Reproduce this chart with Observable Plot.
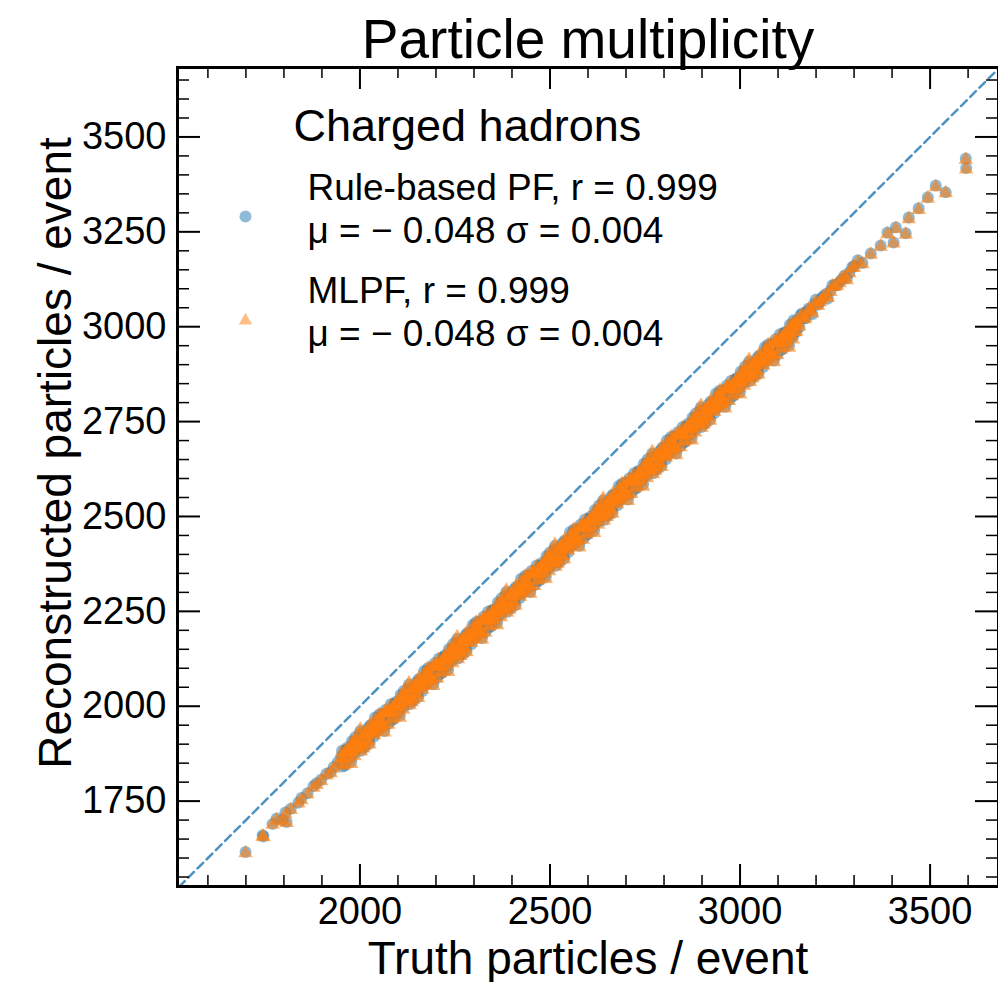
<!DOCTYPE html>
<html><head><meta charset="utf-8">
<script src="https://cdn.jsdelivr.net/npm/d3@7"></script>
<script src="https://cdn.jsdelivr.net/npm/@observablehq/plot@0.6"></script>
<style>body{margin:0;background:#fff}</style>
</head><body><div id="chart"></div>
<script>
// events, batch A
const truth = [1699,1744,1746,1770,1781,1796,1804,1807,1818,1838,1846,1862,1878,1886,1898,1912,1923,1931,1942,
1951,1958,1967,1975,1982,1990,1999,2006,2014,2023,2031,2038,2047,2055,2062,2071,2079,2086,2095,2103,2110,2119,2127,2134,2143,2151,2158,2167,2175,2182,2191,2199,2206,2215,2223,2230,2239,2247,2254,2263,2271,2278,2287,2295,2302,2311,2319,2326,2335,2343,2350,2359,2367,2374,2383,2391,2398,2407,2415,2422,2431,2439,2446,2455,2463,2470,2479,2487,2494,2503,2511,2518,2527,2535,2542,2551,2559,2566,2575,2583,2590,2599,2607,2614,2623,2631,2638,2647,2655,2662,2671,2679,2686,2695,2703,2710,2719,2727,2734,2743,2751,2758,2767,2775,2782,2791,2799,2806,2815,2823,2830,2839,2847,2854,2863,2871,2878,2887,2895,2902,2911,2919,2926,2935,2943,2950,2959,2967,2974,2983,2991,2998,3007,3015,3022,3031,3039,3046,3055,3063,3070,3079,3087,3094,3103,3111,3118,3127,3135,3142,
3151,3159,3168,3176,3185,3196,3205,3214,3226,3238,3249,3262,3275,3288,3300,3310,3322,3344,3370,3388,3404,3410,3436,3444,3470,3494,3515,3541,3594,3595];

const recoPF = [1616,1660,1657,1690,1704,1700,1720,1695,1730,1746,1758,1771,1790,1797,1806,1822,1826,1840,1853,
1867,1858,1891,1884,1877,1907,1925,1910,1924,1912,1949,1937,1969,1961,1955,1983,
1989,1980,2012,2006,1999,2030,2047,2032,2047,2034,2069,2060,2091,2082,2078,2104,
2110,2103,2134,2127,2122,2152,2168,2154,2169,2155,2192,2182,2212,2205,2200,2225,
2233,2225,2255,2250,2243,2273,2291,2276,2290,2277,2314,2303,2334,2327,2321,2348,
2355,2345,2378,2372,2364,2396,2412,2397,2413,2399,2435,2426,2456,2448,2443,2470,
2476,2468,2500,2493,2487,2518,2533,2520,2535,2520,2558,2547,2577,2571,2565,2591,
2598,2590,2621,2615,2609,2639,2656,2642,2655,2643,2680,2668,2700,2692,2686,2714,
2720,2711,2744,2737,2730,2761,2778,2763,2778,2765,2801,2791,2822,2813,2809,2836,
2841,2834,2865,2858,2853,2883,2899,2886,2900,2886,2923,2913,2943,2936,2931,2956,
2964,2956,2986,2981,2975,3004,
3013,3030,3022,3040,3045,3060,3058,3075,3086,3095,3110,3118,3135,3143,3160,3175,3168,3193,3214,3248,3222,3262,3246,3288,3312,3341,3372,3354,3443,3418];

const recoMLPF = [1613,1657,1655,1688,1700,1697,1716,1693,1727,1744,1753,1768,1786,1793,1803,1818,1824,1836,1848,
1864,1860,1885,1883,1881,1902,1925,1902,1927,1910,1945,1938,1962,1963,1952,1988,
1986,1982,2006,2005,2003,2025,2047,2024,2050,2032,2065,2061,2084,2084,2075,2109,
2107,2105,2128,2126,2126,2147,2168,2146,2172,2153,2188,2183,2205,2207,2197,2230,
2230,2227,2249,2249,2247,2268,2291,2268,2293,2275,2310,2304,2327,2329,2318,2353,
2352,2347,2372,2371,2368,2391,2412,2389,2416,2397,2431,2427,2449,2450,2440,2475,
2473,2470,2494,2492,2491,2513,2533,2512,2538,2518,2554,2548,2570,2573,2562,2596,
2595,2592,2615,2614,2613,2634,2656,2634,2658,2641,2676,2669,2693,2694,2683,2719,
2717,2713,2738,2736,2734,2756,2778,2755,2781,2763,2797,2792,2815,2815,2806,2841,
2838,2836,2859,2857,2857,2878,2899,2878,2903,2884,2919,2914,2936,2938,2928,2961,
2961,2958,2980,2980,2979,2999,
3010,3026,3020,3035,3043,3056,3055,3070,3083,3092,3105,3115,3130,3141,3156,3170,3165,3190,3211,3244,3220,3258,3243,3284,3308,3338,3368,3352,3440,3415];

// events, batch B
const truth2 = [1955,1962,1971,1979,1986,1994,2003,2010,2018,2027,2035,2042,2051,2059,2066,2075,
2083,2090,2099,2107,2114,2123,2131,2138,2147,2155,2162,2171,2179,2186,2195,2203,
2210,2219,2227,2234,2243,2251,2258,2267,2275,2282,2291,2299,2306,2315,2323,2330,
2339,2347,2354,2363,2371,2378,2387,2395,2402,2411,2419,2426,2435,2443,2450,2459,
2467,2474,2483,2491,2498,2507,2515,2522,2531,2539,2546,2555,2563,2570,2579,2587,
2594,2603,2611,2618,2627,2635,2642,2651,2659,2666,2675,2683,2690,2699,2707,2714,
2723,2731,2738,2747,2755,2762,2771,2779,2786,2795,2803,2810,2819,2827,2834,2843,
2851,2858,2867,2875,2882,2891,2899,2906,2915,2923,2930,2939,2947,2954,2963,2971,
2978,2987,2995,3002,3011,3019,3026,3035,3043,3050,3059,3067,3074,3083,3091,3098,
3107,3115,3122,3131,3139,3146];

const recoPF2 = [1841,1884,1875,1908,1875,1904,1883,1926,1913,1950,1940,1932,1979,1956,1981,1954,
1963,2006,1996,2030,1997,2027,2005,2048,2036,2072,2060,2055,2101,2077,2104,2075,
2084,2129,2118,2151,2120,2149,2126,2170,2158,2193,2183,2177,2222,2200,2226,2196,
2207,2251,2239,2274,2241,2270,2249,2292,2279,2315,2305,2298,2344,2322,2347,2319,
2329,2371,2362,2396,2362,2393,2370,2413,2402,2437,2426,2421,2466,2443,2469,2441,
2450,2494,2484,2517,2485,2515,2491,2536,2524,2558,2549,2542,2587,2566,2591,2562,
2572,2616,2605,2639,2607,2636,2614,2658,2644,2681,2671,2663,2710,2687,2712,2685,
2694,2737,2728,2761,2728,2758,2736,2779,2767,2803,2792,2786,2832,2808,2835,2807,
2815,2860,2849,2882,2851,2880,2857,2902,2889,2924,2914,2908,2953,2931,2957,2927,
2938,2982,2970,3005,2973,3001];

const recoMLPF2 = [1843,1879,1876,1905,1869,1907,1881,1926,1909,1952,1933,1933,1978,1951,1984,1952,
1965,2001,1997,2027,1991,2030,2003,2048,2032,2074,2053,2056,2100,2072,2107,2073,
2086,2124,2119,2148,2114,2152,2124,2170,2154,2195,2176,2178,2221,2195,2229,2194,
2209,2246,2240,2271,2235,2273,2247,2292,2275,2317,2298,2299,2343,2317,2350,2317,
2331,2366,2363,2393,2356,2396,2368,2413,2398,2439,2419,2422,2465,2438,2472,2439,
2452,2489,2485,2514,2479,2518,2489,2536,2520,2560,2542,2543,2586,2561,2594,2560,
2574,2611,2606,2636,2601,2639,2612,2658,2640,2683,2664,2664,2709,2682,2715,2683,
2696,2732,2729,2758,2722,2761,2734,2779,2763,2805,2785,2787,2831,2803,2838,2805,
2817,2855,2850,2879,2845,2883,2855,2902,2885,2926,2907,2909,2952,2926,2960,2925,
2940,2977,2971,3002,2967,3004];

// events, batch C
const truth3 = [1953,1960,1969,1977,1984,1992,2001,2008,2016,2025,2033,2040,2049,2057,2064,2073,
2081,2088,2097,2105,2112,2121,2129,2136,2145,2153,2160,2169,2177,2184,2193,2201,
2208,2217,2225,2232,2241,2249,2256,2265,2273,2280,2289,2297,2304,2313,2321,2328,
2337,2345,2352,2361,2369,2376,2385,2393,2400,2409,2417,2424,2433,2441,2448,2457,
2465,2472,2481,2489,2496,2505,2513,2520,2529,2537,2544,2553,2561,2568,2577,2585,
2592,2601,2609,2616,2625,2633,2640,2649,2657,2664,2673,2681,2688,2697,2705,2712,
2721,2729,2736,2745,2753,2760,2769,2777,2784,2793,2801,2808,2817,2825,2832,2841,
2849,2856,2865,2873,2880,2889,2897,2904,2913,2921,2928,2937,2945,2952,2961,2969,
2976,2985,2993,3000,3009,3017,3024,3033,3041,3048,3057,3065,3072,3081,3089,3096,
3105,3113,3120,3129,3137,3144];

const recoPF3 = [1883,1844,1881,1854,1905,1892,1935,1894,1931,1902,1936,1970,1939,1978,1935,1982,
2005,1966,2002,1976,2027,2015,2057,2016,2054,2024,2056,2093,2061,2099,2058,2103,
2126,2089,2124,2097,2150,2137,2178,2138,2176,2145,2179,2215,2182,2222,2180,2224,
2249,2211,2245,2220,2271,2258,2301,2260,2297,2267,2301,2336,2304,2344,2301,2347,
2371,2331,2368,2342,2392,2381,2422,2381,2420,2389,2422,2459,2426,2465,2423,2469,
2492,2454,2490,2463,2515,2503,2543,2504,2542,2510,2545,2580,2547,2588,2545,2590,
2614,2576,2611,2585,2637,2624,2666,2626,2662,2633,2667,2701,2670,2709,2666,2713,
2736,2697,2734,2707,2758,2746,2788,2747,2785,2755,2788,2824,2792,2830,2789,2835,
2857,2820,2855,2828,2881,2868,2909,2870,2907,2876,2910,2946,2913,2953,2911,2955,
2980,2942,2976,2951,3003,2989];

const recoMLPF3 = [1879,1847,1879,1848,1906,1889,1939,1889,1931,1900,1938,1963,1942,1977,1931,1983,
2001,1969,2000,1970,2028,2012,2061,2011,2054,2022,2058,2086,2064,2098,2054,2104,
2122,2092,2122,2091,2151,2134,2182,2133,2176,2143,2181,2208,2185,2221,2176,2225,
2245,2214,2243,2214,2272,2255,2305,2255,2297,2265,2303,2329,2307,2343,2297,2348,
2367,2334,2366,2336,2393,2378,2426,2376,2420,2387,2424,2452,2429,2464,2419,2470,
2488,2457,2488,2457,2516,2500,2547,2499,2542,2508,2547,2573,2550,2587,2541,2591,
2610,2579,2609,2579,2638,2621,2670,2621,2662,2631,2669,2694,2673,2708,2662,2714,
2732,2700,2732,2701,2759,2743,2792,2742,2785,2753,2790,2817,2795,2829,2785,2836,
2853,2823,2853,2822,2882,2865,2913,2865,2907,2874,2912,2939,2916,2952,2907,2956,
2976,2945,2974,2945,3004,2986];

// events, batch D
const truth4 = [1957,1964,1973,1981,1988,1996,2005,2012,2020,2029,2037,2044,2053,2061,2068,2077,
2085,2092,2101,2109,2116,2125,2133,2140,2149,2157,2164,2173,2181,2188,2197,2205,
2212,2221,2229,2236,2245,2253,2260,2269,2277,2284,2293,2301,2308,2317,2325,2332,
2341,2349,2356,2365,2373,2380,2389,2397,2404,2413,2421,2428,2437,2445,2452,2461,
2469,2476,2485,2493,2500,2509,2517,2524,2533,2541,2548,2557,2565,2572,2581,2589,
2596,2605,2613,2620,2629,2637,2644,2653,2661,2668,2677,2685,2692,2701,2709,2716,
2725,2733,2740,2749,2757,2764,2773,2781,2788,2797,2805,2812,2821,2829,2836,2845,
2853,2860,2869,2877,2884,2893,2901,2908,2917,2925,2932,2941,2949,2956,2965,2973,
2980,2989,2997,3004,3013,3021,3028,3037,3045,3052,3061,3069,3076,3085,3093,3100,
3109,3117,3124,3133,3141,3148];

const recoPF4 = [1861,1884,1863,1894,1919,1890,1911,1892,1941,1926,1920,1956,1953,1948,1991,1982,
1983,2006,1984,2016,2041,2013,2033,2014,2064,2048,2040,2079,2075,2069,2114,2103,
2104,2129,2106,2137,2164,2135,2154,2136,2186,2169,2163,2201,2196,2192,2236,2224,
2227,2251,2227,2260,2285,2256,2277,2258,2307,2291,2285,2322,2318,2314,2357,2347,
2349,2371,2350,2382,2406,2379,2398,2379,2430,2413,2406,2445,2440,2435,2479,2469,
2470,2494,2472,2503,2529,2501,2519,2502,2552,2534,2529,2566,2561,2558,2601,2590,
2592,2616,2593,2625,2651,2622,2642,2624,2672,2657,2651,2687,2684,2679,2722,2713,
2714,2737,2716,2747,2772,2744,2764,2745,2795,2779,2772,2810,2806,2800,2845,2835,
2835,2860,2837,2868,2895,2866,2885,2868,2917,2900,2894,2932,2927,2923,2967,2955,
2958,2982,2958,2991,3017,2987];

const recoMLPF4 = [1862,1878,1865,1891,1911,1890,1909,1895,1936,1925,1924,1952,1953,1945,1984,1984,
1984,2000,1986,2013,2033,2013,2031,2017,2059,2047,2044,2075,2075,2066,2107,2105,
2105,2123,2108,2134,2156,2135,2152,2139,2181,2168,2167,2197,2196,2189,2229,2226,
2228,2245,2229,2257,2277,2256,2275,2261,2302,2290,2289,2318,2318,2311,2350,2349,
2350,2365,2352,2379,2398,2379,2396,2382,2425,2412,2410,2441,2440,2432,2472,2471,
2471,2488,2474,2500,2521,2501,2517,2505,2547,2533,2533,2562,2561,2555,2594,2592,
2593,2610,2595,2622,2643,2622,2640,2627,2667,2656,2655,2683,2684,2676,2715,2715,
2715,2731,2718,2744,2764,2744,2762,2748,2790,2778,2776,2806,2806,2797,2838,2837,
2836,2854,2839,2865,2887,2866,2883,2871,2912,2899,2898,2928,2927,2920,2960,2957,
2959,2976,2960,2988,3009,2987];

// events, batch E (upper tail)
const truth5 = [3148,3156,3163,3172,3181,3190,3199,3210,3219,3231,3243,3255,3268,3281,3295];
const recoPF5 = [3015,2999,3035,3022,3048,3033,3071,3064,3080,3074,3109,3109,3125,3128,3157];
const recoMLPF5 = [3012,3001,3030,3022,3046,3036,3065,3065,3076,3076,3106,3108,3127,3123,3155];

const xMajor = [2000, 2500, 3000, 3500];
const xMinor = [1600,1700,1800,1900,2100,2200,2300,2400,2600,2700,2800,2900,3100,3200,3300,3400,3600];
const yMajor = [1750, 2000, 2250, 2500, 2750, 3000, 3250, 3500];
const yMinor = [1550,1600,1650,1700,1800,1850,1900,1950,2050,2100,2150,2200,2300,2350,2400,2450,2550,2600,2650,2700,2800,2850,2900,2950,3050,3100,3150,3200,3300,3350,3400,3450,3550,3600,3650];
const diagonal = [1500, 3700];

const titleText = "Particle multiplicity";
const xLabel = "Truth particles / event";
const yLabel = "Reconstructed particles / event";
const legendTitle = "Charged hadrons";
const seriesNames = ["Rule-based PF, r = 0.999", "MLPF, r = 0.999"];
const seriesStats = ["μ = − 0.048 σ = 0.004", "μ = − 0.048 σ = 0.004"];

const batches = [[truth, recoPF, recoMLPF], [truth2, recoPF2, recoMLPF2], [truth3, recoPF3, recoMLPF3], [truth4, recoPF4, recoMLPF4], [truth5, recoPF5, recoMLPF5]];
const pf = batches.flatMap(([t, p]) => t.map((v, i) => ({truth: v, reco: p[i]})));
const ml = batches.flatMap(([t, , m]) => t.map((v, i) => ({truth: v, reco: m[i]})));

const W = 998, H = 982, mL = 177, mR = 0, mT = 67, mB = 96;
const iw = W - mL - mR, ih = H - mT - mB;
const blue = "#1f77b4", orange = "#ff7f0e";
const tx = {frameAnchor: "top-left", textAnchor: "start", lineAnchor: "bottom", fill: "black"};

const chart = Plot.plot({
  width: W, height: H,
  marginLeft: mL, marginRight: mR, marginTop: mT, marginBottom: mB,
  style: {fontFamily: "'Liberation Sans', Arial, Helvetica, sans-serif", background: "white", overflow: "visible"},
  x: {domain: [1520, 3680]},
  y: {domain: [1525, 3683]},
  marks: [
    Plot.line(diagonal, {x: d => d, y: d => d, stroke: blue, strokeOpacity: 0.8, strokeWidth: 2.5, strokeDasharray: "8,5", clip: true}),
    Plot.dot(pf, {x: "truth", y: "reco", r: 6, fill: blue, fillOpacity: 0.5, stroke: "none", clip: true}),
    Plot.dot(ml, {x: "truth", y: "reco", r: 5.4, symbol: "triangle", fill: orange, fillOpacity: 0.6, stroke: "none", clip: true}),
    // inward ticks on all four sides
    Plot.ruleX(xMajor, {x: d => d, insetTop: ih - 22, stroke: "black", strokeWidth: 2}),
    Plot.ruleX(xMinor, {x: d => d, insetTop: ih - 11, stroke: "black", strokeWidth: 1.5}),
    Plot.ruleX(xMajor, {x: d => d, insetBottom: ih - 22, stroke: "black", strokeWidth: 2}),
    Plot.ruleX(xMinor, {x: d => d, insetBottom: ih - 11, stroke: "black", strokeWidth: 1.5}),
    Plot.ruleY(yMajor, {y: d => d, insetRight: iw - 23, stroke: "black", strokeWidth: 2}),
    Plot.ruleY(yMinor, {y: d => d, insetRight: iw - 12, stroke: "black", strokeWidth: 1.5}),
    Plot.ruleY(yMajor, {y: d => d, insetLeft: iw - 23, stroke: "black", strokeWidth: 2}),
    Plot.ruleY(yMinor, {y: d => d, insetLeft: iw - 12, stroke: "black", strokeWidth: 1.5}),
    Plot.frame({stroke: "black", strokeWidth: 3}),
    Plot.axisX({ticks: xMajor, tickSize: 0, tickPadding: 11, tickFormat: "d", fontSize: 38, label: null, color: "black"}),
    Plot.axisY({ticks: yMajor, tickSize: 0, tickPadding: 11, tickFormat: "d", fontSize: 38, label: null, color: "black"}),
    // titles
    Plot.text([titleText], {text: d => d, frameAnchor: "top", textAnchor: "middle", lineAnchor: "bottom", dy: -10, fontSize: 55, fill: "black"}),
    Plot.text([xLabel], {text: d => d, frameAnchor: "bottom", textAnchor: "middle", lineAnchor: "bottom", dy: 87, fontSize: 46, fill: "black"}),
    Plot.text([yLabel], {text: d => d, frameAnchor: "left", textAnchor: "middle", lineAnchor: "bottom", rotate: -90, dx: -107, dy: -24, fontSize: 46, fill: "black"}),
    // legend
    Plot.text([legendTitle], {...tx, text: d => d, dx: 293 - mL, dy: 140 - mT, fontSize: 45}),
    Plot.text([seriesNames[0]], {...tx, text: d => d, dx: 307 - mL, dy: 199 - mT, fontSize: 37}),
    Plot.text([seriesStats[0]], {...tx, text: d => d, dx: 307 - mL, dy: 242 - mT, fontSize: 37}),
    Plot.text([seriesNames[1]], {...tx, text: d => d, dx: 307 - mL, dy: 302 - mT, fontSize: 37}),
    Plot.text([seriesStats[1]], {...tx, text: d => d, dx: 307 - mL, dy: 345 - mT, fontSize: 37}),
    Plot.dot([seriesNames[0]], {frameAnchor: "top-left", dx: 245 - mL, dy: 216 - mT, r: 6, fill: blue, fillOpacity: 0.5, stroke: "none"}),
    Plot.dot([seriesNames[1]], {frameAnchor: "top-left", dx: 245 - mL, dy: 320 - mT, r: 5, symbol: "triangle", fill: orange, fillOpacity: 0.5, stroke: "none"})
  ]
});
document.getElementById("chart").appendChild(chart);
</script>
</body></html>
